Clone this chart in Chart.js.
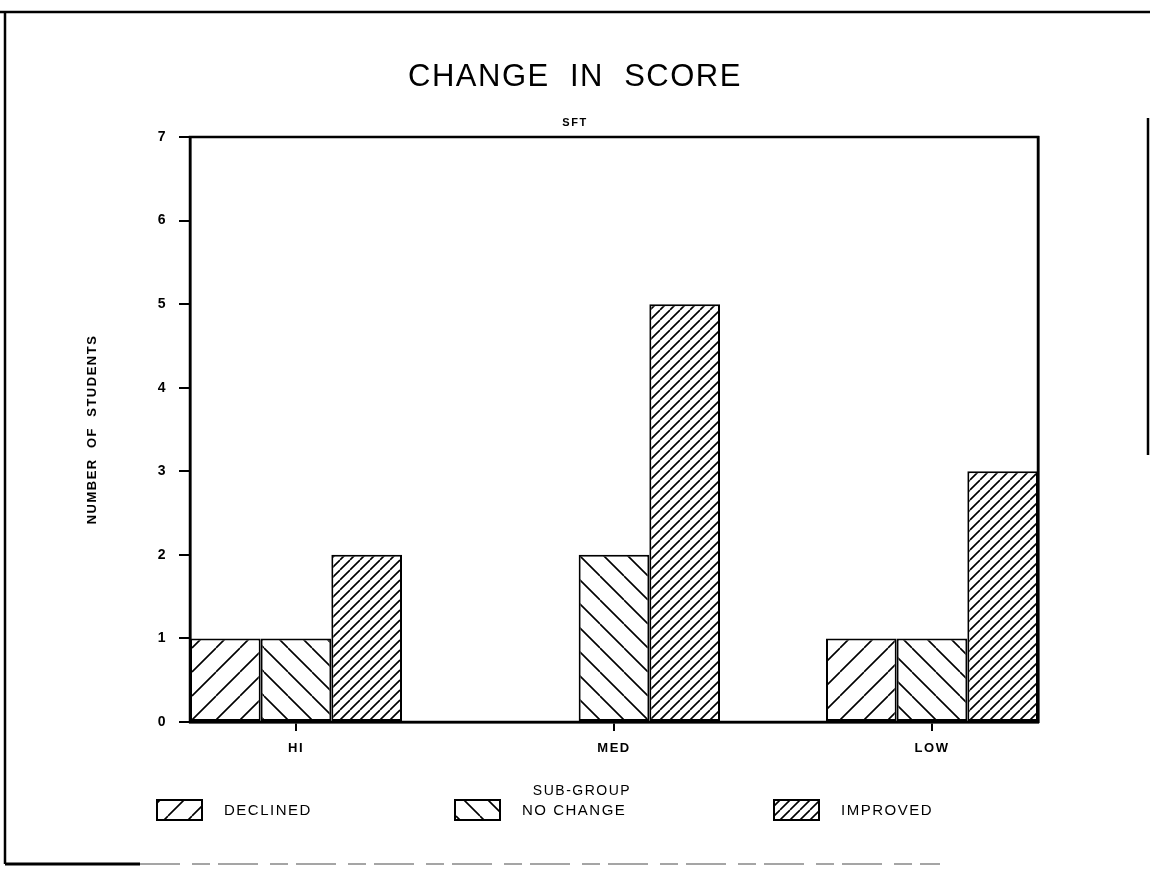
<!DOCTYPE html>
<html>
<head>
<meta charset="utf-8">
<script src="https://cdn.jsdelivr.net/npm/chart.js@4.4.1/dist/chart.umd.min.js"></script>
<style>
  html, body { margin: 0; padding: 0; background: #fff; }
  #wrap { width: 1150px; height: 870px; position: relative; }
</style>
</head>
<body>
<div id="wrap"><canvas id="c" width="1150" height="870"></canvas></div>
<script>
// ---- data ----
const categories = ['HI', 'MED', 'LOW'];
const seriesNames = ['DECLINED', 'NO CHANGE', 'IMPROVED'];
const declined = [1, 0, 1];
const noChange = [1, 2, 1];
const improved = [2, 5, 3];
const yMin = 0;
const yMax = 7;
const xTitle = 'SUB-GROUP';

// ---- hatch patterns ----
function makeHatch(period, dir, lw) {
  const c = document.createElement('canvas');
  c.width = period; c.height = period;
  const g = c.getContext('2d');
  g.fillStyle = '#fff';
  g.fillRect(0, 0, period, period);
  g.strokeStyle = '#000';
  g.lineWidth = lw;
  g.beginPath();
  for (const k of [-1, 0, 1]) {
    if (dir === '/') {
      g.moveTo(k * period, period);
      g.lineTo(k * period + period, 0);
    } else {
      g.moveTo(k * period, 0);
      g.lineTo(k * period + period, period);
    }
  }
  g.stroke();
  return g.createPattern(c, 'repeat');
}
const patterns = [makeHatch(24, '/', 1.6), makeHatch(24, '\\', 1.6), makeHatch(10, '/', 1.6)];
const seriesValues = [declined, noChange, improved];

Chart.defaults.color = '#000';
Chart.defaults.font.family = '"Liberation Sans", Arial, sans-serif';

const spacingPlugin = {
  id: 'spacing',
  beforeLayout(chart) { try { chart.ctx.letterSpacing = '1.5px'; } catch (e) {} },
  beforeDraw(chart) {
    const ctx = chart.ctx;
    try { ctx.letterSpacing = '1.5px'; } catch (e) {}
    // page frame (scanned sheet border)
    ctx.save();
    ctx.strokeStyle = '#000';
    ctx.lineWidth = 2.5;
    ctx.beginPath();
    ctx.moveTo(0, 12); ctx.lineTo(1150, 12);
    ctx.moveTo(5, 12); ctx.lineTo(5, 864);
    ctx.moveTo(1148, 118); ctx.lineTo(1148, 455);
    ctx.stroke();
    ctx.lineWidth = 3;
    ctx.beginPath();
    ctx.moveTo(5, 864); ctx.lineTo(140, 864);
    ctx.stroke();
    ctx.strokeStyle = '#888';
    ctx.lineWidth = 1.5;
    ctx.setLineDash([40, 12, 18, 8]);
    ctx.beginPath();
    ctx.moveTo(140, 864); ctx.lineTo(940, 864);
    ctx.stroke();
    ctx.restore();
  },
  afterDraw(chart) {
    const ctx = chart.ctx;
    const a = chart.chartArea;
    ctx.save();
    ctx.strokeStyle = '#000';
    ctx.lineWidth = 2.5;
    ctx.strokeRect(a.left, a.top, a.right - a.left, a.bottom - a.top);
    // x-axis title
    ctx.font = '14px "Liberation Sans", Arial, sans-serif';
    ctx.fillStyle = '#000';
    ctx.textAlign = 'center';
    ctx.textBaseline = 'middle';
    ctx.fillText(xTitle, 582, 791);
    // legend
    const lx = [157, 455, 774];
    const ly = 800, bw = 45, bh = 20;
    ctx.font = '15px "Liberation Sans", Arial, sans-serif';
    ctx.textBaseline = 'middle';
    ctx.textAlign = 'left';
    chart.data.datasets.forEach((ds, i) => {
      ctx.fillStyle = ds.backgroundColor;
      ctx.fillRect(lx[i], ly, bw, bh);
      ctx.lineWidth = 2;
      ctx.strokeStyle = '#000';
      ctx.strokeRect(lx[i], ly, bw, bh);
      ctx.fillStyle = '#000';
      ctx.fillText(ds.label, lx[i] + bw + 22, ly + bh / 2 + 1);
    });
    ctx.restore();
  }
};

new Chart(document.getElementById('c'), {
  type: 'bar',
  data: {
    labels: categories.map((c, i) => i + 1),
    datasets: seriesNames.map((name, i) => ({
      label: name,
      data: seriesValues[i],
      backgroundColor: patterns[i],
      borderColor: '#000',
      borderWidth: 2,
      borderSkipped: false,
      categoryPercentage: 2 / 3,
      barPercentage: 1
    }))
  },
  options: {
    responsive: false,
    animation: false,
    devicePixelRatio: 1,
    layout: { padding: { left: 0, right: 0, top: 0, bottom: 68 } },
    plugins: {
      legend: { display: false },
      tooltip: { enabled: false },
      title: {
        display: true,
        text: 'CHANGE  IN  SCORE',
        font: { size: 31, weight: 'normal', lineHeight: '36px' },
        padding: { top: 59, bottom: 0 }
      },
      subtitle: {
        display: true,
        text: 'SFT',
        font: { size: 11, weight: 'bold', lineHeight: '16px' },
        padding: { top: 20, bottom: 6 }
      }
    },
    scales: {
      x: {
        type: 'linear',
        min: 2 / 3,
        max: 10 / 3,
        offset: false,
        afterBuildTicks: (s) => { s.ticks = categories.map((c, i) => ({ value: i + 1 })); },
        afterFit: (s) => { s.height = 80; },
        ticks: {
          callback: (v) => categories[Math.round(v) - 1] || '',
          font: { size: 13, weight: 'bold' },
          padding: 10,
          maxRotation: 0
        },
        grid: {
          offset: false,
          drawOnChartArea: false,
          drawTicks: true,
          tickLength: 9,
          color: '#000',
          lineWidth: 2
        },
        border: { display: true, color: '#000', width: 2.5 },
        title: { display: false }
      },
      y: {
        min: yMin,
        max: yMax,
        afterFit: (s) => { s.width = 190; },
        ticks: {
          stepSize: 1,
          font: { size: 14, weight: 'bold' },
          padding: 12
        },
        grid: {
          drawOnChartArea: false,
          drawTicks: true,
          tickLength: 11,
          color: '#000',
          lineWidth: 2
        },
        border: { display: true, color: '#000', width: 2.5 },
        title: {
          display: true,
          text: 'NUMBER  OF  STUDENTS',
          font: { size: 13, weight: 'bold', lineHeight: '16px' },
          padding: { top: 84, bottom: 0 }
        }
      },
      yRight: {
        position: 'right',
        min: yMin,
        max: yMax,
        afterFit: (s) => { s.width = 112; },
        ticks: { display: false },
        grid: { drawOnChartArea: false, drawTicks: false },
        border: { display: true, color: '#000', width: 2.5 }
      }
    }
  },
  plugins: [spacingPlugin]
});
</script>
</body>
</html>
